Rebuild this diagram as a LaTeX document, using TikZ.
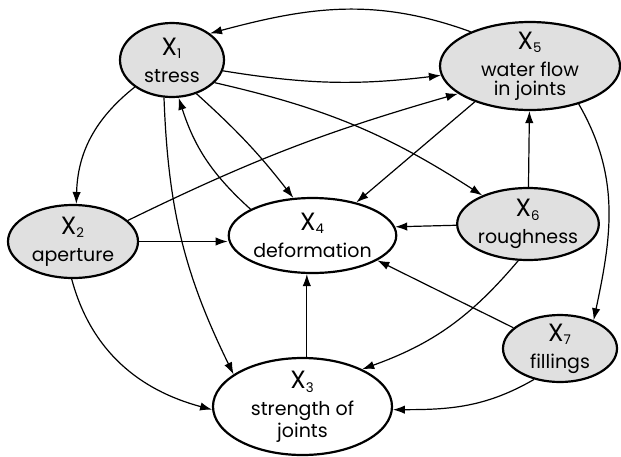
\documentclass[tikz,border=0pt]{standalone}
\usepackage{fontspec}
\setmainfont{Poppins}
\usetikzlibrary{shapes.geometric,arrows.meta}
\newcommand{\xvar}[1]{{\fontsize{12.5}{12.5}\selectfont X}\textsubscript{#1}\\[4pt]}
\begin{document}
\begin{tikzpicture}[x=0.5pt,y=-0.5pt,
    var/.style={ellipse,draw,line width=1.1pt,inner xsep=0pt,inner ysep=-6pt,
      align=center,font=\fontsize{9.5}{9.5}\selectfont},
    given/.style={var,fill=black!12},
    free/.style={var,fill=white}]
      \useasboundingbox (0,0) rectangle (621,456);
      \draw
        (172,60) node[given,minimum width=52pt,minimum height=37pt] (x1){\xvar{1}stress}
        (73,241.5) node[given,minimum width=65pt,minimum height=36.5pt] (x2){\xvar{2}aperture}
        (302.5,406.5) node[free,minimum width=89.5pt,minimum height=48.5pt] (x3){\xvar{3}strength of\\joints}
        (312.5,235.5) node[free,minimum width=82.5pt,minimum height=37.5pt] (x4){\xvar{4}deformation}
        (530,66) node[given,minimum width=90pt,minimum height=44pt] (x5){\xvar{5}water flow\\in joints}
        (528,224) node[given,minimum width=70pt,minimum height=36pt] (x6){\xvar{6}roughness}
        (560,348.5) node[given,minimum width=57pt,minimum height=33.5pt] (x7){\xvar{7}fillings};
      \begin{scope}[-{Latex[length=6pt,width=4.2pt]},line width=0.6pt]
        \draw (x5.150) to[out=160,in=15] (x1.35);
        \draw (x1.-12) to[bend right=8] (x5.186);
        \draw (x1.-28) to[bend left=10] (x6.148);
        \draw (x1.216) to[bend right=25] (x2.85);
        \draw (x1.258) to[bend right=12] (x3.155);
        \draw (x4.157) to[bend left=15] (x1.280);
        \draw (x1.306) to[bend left=5] (x4.117);
        \draw (x2.21) to[bend left=5] (x5.201);
        \draw (x2.east) -- (x2.east -| x4.west);
        \draw (x2.268) to[out=-75,in=165] (x3.182);
        \draw (x5.213) -- (x4.37);
        \draw (x6) -- (x5);
        \draw (x5.322) to[out=-60,in=78] (x7.40);
        \draw (x6.181) -- (x4.6);
        \draw (x6.255) to[bend left=15] (x3.32);
        \draw (x7.156) -- (x4.339);
        \draw (x7.230) to[out=210,in=0] (x3.358);
        \draw (x3.85) -- (x3.85 |- x4.south);
      \end{scope}
    \end{tikzpicture}
\end{document}
